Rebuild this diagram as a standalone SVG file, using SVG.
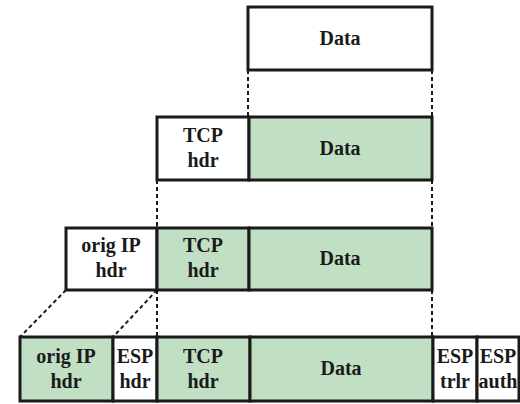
<svg xmlns="http://www.w3.org/2000/svg" width="520" height="404" viewBox="0 0 520 404">
<style>
.b{stroke:#1a1a1a;stroke-width:3;}
.w{fill:#ffffff;}
.g{fill:#c1dfc3;}
.t{font-family:"Liberation Serif","Times New Roman",serif;font-weight:bold;font-size:20px;fill:#1a1a1a;text-anchor:middle;}
.d{stroke:#1a1a1a;stroke-width:2;stroke-dasharray:4 3;fill:none;}
</style>
<rect width="520" height="404" fill="#ffffff"/>
<g id="connectors">
<line class="d" x1="248" y1="70" x2="248" y2="117"/>
<line class="d" x1="432" y1="70" x2="432" y2="117"/>
<line class="d" x1="157" y1="180" x2="157" y2="228"/>
<line class="d" x1="432" y1="180" x2="432" y2="228"/>
<line class="d" x1="66" y1="290" x2="20" y2="337"/>
<line class="d" x1="157" y1="290" x2="113" y2="337"/>
<line class="d" x1="157" y1="290" x2="157" y2="337"/>
<line class="d" x1="432" y1="290" x2="432" y2="337"/>
</g>
<g id="r1-data"><rect class="b w" x="248" y="7" width="184" height="63"/><text class="t" x="340" y="45">Data</text></g>
<g id="r2-tcp"><rect class="b w" x="157" y="117" width="92" height="63"/><text class="t" x="203" y="142">TCP</text><text class="t" x="203" y="167">hdr</text></g>
<g id="r2-data"><rect class="b g" x="249" y="117" width="183" height="63"/><text class="t" x="340" y="155">Data</text></g>
<g id="r3-ip"><rect class="b w" x="66" y="228" width="91" height="62"/><text class="t" x="111" y="252">orig IP</text><text class="t" x="111" y="277">hdr</text></g>
<g id="r3-tcp"><rect class="b g" x="157" y="228" width="92" height="62"/><text class="t" x="203" y="252">TCP</text><text class="t" x="203" y="277">hdr</text></g>
<g id="r3-data"><rect class="b g" x="249" y="228" width="183" height="62"/><text class="t" x="340" y="265">Data</text></g>
<g id="r4-ip"><rect class="b g" x="20" y="337" width="93" height="64"/><text class="t" x="66" y="363">orig IP</text><text class="t" x="66" y="388">hdr</text></g>
<g id="r4-esphdr"><rect class="b w" x="113" y="337" width="44" height="64"/><text class="t" x="135" y="363">ESP</text><text class="t" x="135" y="388">hdr</text></g>
<g id="r4-tcp"><rect class="b g" x="157" y="337" width="93" height="64"/><text class="t" x="203" y="363">TCP</text><text class="t" x="203" y="388">hdr</text></g>
<g id="r4-data"><rect class="b g" x="250" y="337" width="183" height="64"/><text class="t" x="341" y="375">Data</text></g>
<g id="r4-esptrlr"><rect class="b w" x="433" y="337" width="44" height="64"/><text class="t" x="455" y="363">ESP</text><text class="t" x="455" y="388">trlr</text></g>
<g id="r4-espauth"><rect class="b w" x="477" y="337" width="42" height="64"/><text class="t" x="498" y="363">ESP</text><text class="t" x="498" y="388">auth</text></g>
</svg>
